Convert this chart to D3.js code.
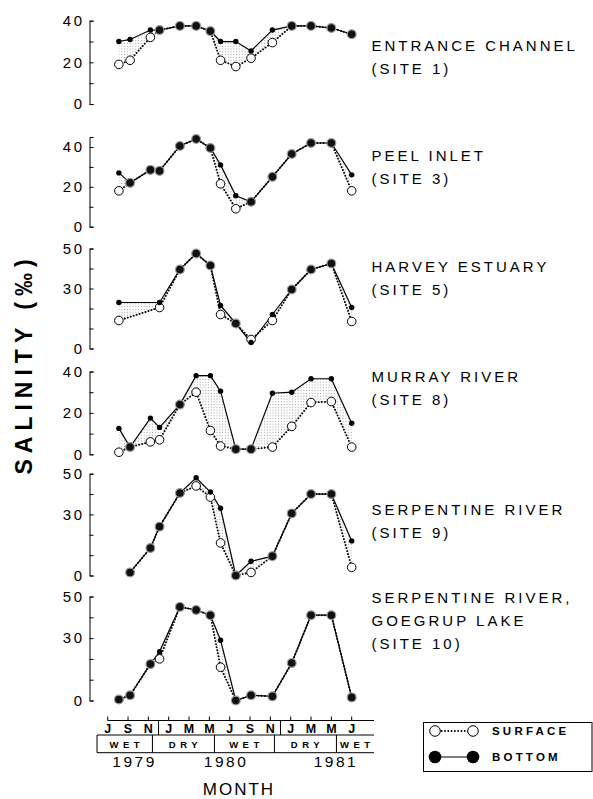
<!DOCTYPE html>
<html>
<head>
<meta charset="utf-8">
<script src="https://cdn.jsdelivr.net/npm/d3@7"></script>
<style>
  body { margin: 0; background: #fff; }
  svg { display: block; font-family: "Liberation Sans", Arial, sans-serif; }
</style>
</head>
<body>
<div id="chart"></div>
<script>
(function(){
    // Data: sampling dates as months after 1 July 1979
    const sampleMonths = [1.1, 2.2, 4.2, 5.1, 7.1, 8.7, 10.1, 11.1, 12.6, 14.1, 16.2, 18.1, 20.0, 22.0, 24.0];

    const entranceSurface = [19, 21, 32, 35.5, 37.5, 37.5, 35, 21, 18, 22, 29.5, 37.5, 37.5, 36.5, 33.5];
    const entranceBottom  = [30, 31, 35.5, 35.5, 37.5, 37.5, 35, 30, 30, 25.5, 35.5, 37.5, 37.5, 36.5, 33.5];

    const peelSurface = [18, 22, 28.5, 28, 40.5, 44, 39.5, 21.5, 9, 12.5, 25, 36.5, 42, 42, 18];
    const peelBottom  = [27, 22, 28.5, 28, 40.5, 44, 39.5, 31, 15.5, 12.5, 25, 36.5, 42, 42, 26];

    const harveySurface = [14, null, null, 20.5, 39.5, 47.5, 41.5, 17, 12.5, 4.5, 14, 29.5, 39.5, 42.5, 13.5];
    const harveyBottom  = [23, null, null, 23, 39.5, 47.5, 41.5, 21.5, 12.5, 3, 17, 29.5, 39.5, 42.5, 20.5];

    const murraySurface = [1, 3.5, 6, 7, 24, 30, 11.5, 4, 2.5, 2.5, 3.5, 13.5, 25, 25.5, 3.5];
    const murrayBottom  = [12.5, 3.5, 17.5, 13, 24, 38, 38, 30.5, 2.5, 2.5, 29.5, 30, 36.5, 36.5, 15];

    const serpentineSurface = [null, 1.5, 13.5, 24, 40.5, 44, 38.5, 16, 0, 1.5, 9.5, 30.5, 40, 40, 4];
    const serpentineBottom  = [null, 1.5, 13.5, 24, 40.5, 48, 41, 33, 0, 7, 9.5, 30.5, 40, 40, 17];

    const goegrupSurface = [0.5, 2.5, 17.5, 20, 45, 43.5, 41, 16, 0, 2.5, 2, 18, 41, 41, 1.5];
    const goegrupBottom  = [0.5, 2.5, 17.5, 23.5, 45, 43.5, 41, 29, 0, 2.5, 2, 18, 41, 41, 1.5];

    const siteLabels = [
        ["ENTRANCE CHANNEL", "(SITE 1)"],
        ["PEEL INLET", "(SITE 3)"],
        ["HARVEY ESTUARY", "(SITE 5)"],
        ["MURRAY RIVER", "(SITE 8)"],
        ["SERPENTINE RIVER", "(SITE 9)"],
        ["SERPENTINE RIVER,", "GOEGRUP LAKE", "(SITE 10)"]
    ];
    const surfaceSeries = [entranceSurface, peelSurface, harveySurface, murraySurface, serpentineSurface, goegrupSurface];
    const bottomSeries = [entranceBottom, peelBottom, harveyBottom, murrayBottom, serpentineBottom, goegrupBottom];
    const yMax = [40, 45, 50, 40, 50, 50];
    const yLabelTicks = [[0, 20, 40], [0, 20, 40], [0, 30, 50], [0, 20, 40], [0, 30, 50], [0, 30, 50]];

    const monthLabels = ["J", "S", "N", "J", "M", "M", "J", "S", "N", "J", "M", "M", "J"];
    const monthTickMonths = d3.range(0, 25, 2);
    const monthDividers = [5, 17];
    const seasons = ["WET", "DRY", "WET", "DRY", "WET"];
    const seasonBounds = [-1.05, 4.4, 10.5, 16.4, 22.5, 26.2];
    const years = ["1979", "1980", "1981"];
    const yearMonths = [2.5, 11.5, 22.3];

    // Layout (pixels)
    const W = 593, H = 799;
    const axisX = 89.5;
    const panels = [
        { top: 20.7, bottom: 104, label: 51 },
        { top: 137, bottom: 226.7, label: 161 },
        { top: 248.5, bottom: 348.5, label: 271.5 },
        { top: 371.5, bottom: 454.3, label: 381.5 },
        { top: 473.7, bottom: 575.5, label: 514.5 },
        { top: 596.5, bottom: 700.5, label: 603 }
    ];

    const svg = d3.select("#chart").append("svg")
        .attr("width", W)
        .attr("height", H);

    svg.append("rect").attr("width", W).attr("height", H).attr("fill", "#fff");

    const defs = svg.append("defs");
    const pat = defs.append("pattern")
        .attr("id", "stipple")
        .attr("patternUnits", "userSpaceOnUse")
        .attr("width", 2.8)
        .attr("height", 2.8);
    pat.append("circle").attr("cx", 1.4).attr("cy", 1.4).attr("r", 0.55).attr("fill", "#8a8a8a");

    const x = d3.scaleLinear().domain([0, 24]).range([107.7, 351.7]);

    panels.forEach((p, i) => {
        const y = d3.scaleLinear().domain([0, yMax[i]]).range([p.bottom, p.top]);
        const g = svg.append("g");

        // Axis
        const labelSet = new Set(yLabelTicks[i]);
        const axis = g.append("g")
            .attr("transform", `translate(${axisX},0)`)
            .call(d3.axisLeft(y)
                .tickValues(d3.range(0, yMax[i] + 1, 10))
                .tickSizeInner(-4)
                .tickSizeOuter(-4)
                .tickPadding(5)
                .tickFormat(d => labelSet.has(d) ? d : ""));
        axis.select(".domain").attr("stroke", "#000").attr("stroke-width", 1);
        axis.selectAll(".tick line").attr("stroke", "#000");
        axis.selectAll(".tick text")
            .attr("fill", "#000")
            .style("font-size", "15px")
            .style("letter-spacing", "2.5px");

        const pts = sampleMonths.map((m, k) => ({ m, s: surfaceSeries[i][k], b: bottomSeries[i][k] }))
            .filter(d => d.b !== null);

        // Stippled difference between surface and bottom
        g.append("path")
            .datum(pts)
            .attr("fill", "url(#stipple)")
            .attr("d", d3.area().x(d => x(d.m)).y0(d => y(d.s)).y1(d => y(d.b)));

        g.append("path")
            .datum(pts)
            .attr("fill", "none")
            .attr("stroke", "#000")
            .attr("stroke-width", 1.2)
            .attr("d", d3.line().x(d => x(d.m)).y(d => y(d.b)));

        g.append("path")
            .datum(pts)
            .attr("fill", "none")
            .attr("stroke", "#000")
            .attr("stroke-width", 1.9)
            .attr("stroke-linecap", "round")
            .attr("stroke-dasharray", "0.1 3")
            .attr("d", d3.line().x(d => x(d.m)).y(d => y(d.s)));

        const same = pts.filter(d => d.s === d.b);
        const diff = pts.filter(d => d.s !== d.b);

        g.selectAll(".surf")
            .data(diff)
            .enter().append("circle")
            .attr("cx", d => x(d.m))
            .attr("cy", d => y(d.s))
            .attr("r", 4.3)
            .attr("fill", "#fff")
            .attr("stroke", "#000")
            .attr("stroke-width", 1);

        g.selectAll(".bot")
            .data(diff)
            .enter().append("circle")
            .attr("cx", d => x(d.m))
            .attr("cy", d => y(d.b))
            .attr("r", 2.7)
            .attr("fill", "#000");

        g.selectAll(".both")
            .data(same)
            .enter().append("circle")
            .attr("cx", d => x(d.m))
            .attr("cy", d => y(d.b))
            .attr("r", 4.4)
            .attr("fill", "#111")
            .attr("stroke", "#999")
            .attr("stroke-width", 1.2);

        // Site label
        const lbl = g.append("text")
            .attr("x", 371.5)
            .attr("y", p.label)
            .style("font-size", "15px")
            .style("letter-spacing", "3px");
        siteLabels[i].forEach((t, k) => {
            lbl.append("tspan").attr("x", 371.5).attr("y", p.label + k * 23).text(t);
        });
    });

    // Y axis title
    svg.append("text")
        .attr("transform", "translate(32,364) rotate(-90)")
        .attr("text-anchor", "middle")
        .style("font-size", "23px")
        .style("font-weight", "bold")
        .style("letter-spacing", "6px")
        .text("SALINITY (‰)");

    // Month / season axis
    const ax = svg.append("g");
    const lineTop = 720.5, rowMid = 735, rowBot = 752.7, rightEnd = 374;

    ax.append("line").attr("x1", x(0)).attr("x2", rightEnd).attr("y1", lineTop).attr("y2", lineTop).attr("stroke", "#000");
    ax.selectAll(".mtick").data(monthTickMonths).enter().append("line")
        .attr("x1", d => x(d)).attr("x2", d => x(d))
        .attr("y1", lineTop - 4).attr("y2", lineTop)
        .attr("stroke", "#000");
    ax.selectAll(".mlabel").data(monthLabels).enter().append("text")
        .attr("x", (d, k) => x(monthTickMonths[k]))
        .attr("y", 733.3)
        .attr("text-anchor", "middle")
        .style("font-size", "12.5px")
        .style("font-weight", "bold")
        .text(d => d);
    ax.selectAll(".mdiv").data(monthDividers).enter().append("line")
        .attr("x1", d => x(d)).attr("x2", d => x(d))
        .attr("y1", lineTop).attr("y2", rowMid)
        .attr("stroke", "#000");

    ax.append("line").attr("x1", x(seasonBounds[0])).attr("x2", rightEnd).attr("y1", rowMid).attr("y2", rowMid).attr("stroke", "#000");
    ax.append("line").attr("x1", x(seasonBounds[0])).attr("x2", rightEnd).attr("y1", rowBot).attr("y2", rowBot).attr("stroke", "#000");
    ax.selectAll(".sdiv").data(seasonBounds.slice(0, -1)).enter().append("line")
        .attr("x1", d => x(d)).attr("x2", d => x(d))
        .attr("y1", rowMid).attr("y2", rowBot)
        .attr("stroke", "#000");
    ax.selectAll(".slabel").data(seasons).enter().append("text")
        .attr("x", (d, k) => (x(seasonBounds[k]) + x(seasonBounds[k + 1])) / 2 + 2)
        .attr("y", 747.5)
        .attr("text-anchor", "middle")
        .style("font-size", "9.5px")
        .style("font-weight", "bold")
        .style("letter-spacing", "4.5px")
        .text(d => d);

    ax.selectAll(".year").data(years).enter().append("text")
        .attr("x", (d, k) => x(yearMonths[k]) + 1.5)
        .attr("y", 767)
        .attr("text-anchor", "middle")
        .style("font-size", "15.5px")
        .style("letter-spacing", "2.5px")
        .text(d => d);

    ax.append("text")
        .attr("x", 239)
        .attr("y", 795)
        .attr("text-anchor", "middle")
        .style("font-size", "17px")
        .style("letter-spacing", "2px")
        .text("MONTH");

    // Legend
    const lg = svg.append("g");
    lg.append("rect")
        .attr("x", 423.5).attr("y", 722.5)
        .attr("width", 168.5).attr("height", 49)
        .attr("fill", "none").attr("stroke", "#000");

    lg.append("line").attr("x1", 435).attr("x2", 473).attr("y1", 731).attr("y2", 731)
        .attr("stroke", "#000").attr("stroke-width", 1.8)
        .attr("stroke-linecap", "round").attr("stroke-dasharray", "0.1 3.2");
    lg.selectAll(".lo").data([435, 473]).enter().append("circle")
        .attr("cx", d => d).attr("cy", 731).attr("r", 5.3)
        .attr("fill", "#fff").attr("stroke", "#000");

    lg.append("line").attr("x1", 435).attr("x2", 473).attr("y1", 757).attr("y2", 757)
        .attr("stroke", "#000").attr("stroke-width", 1.2);
    lg.selectAll(".lf").data([435, 473]).enter().append("circle")
        .attr("cx", d => d).attr("cy", 757).attr("r", 6.3)
        .attr("fill", "#000");

    lg.selectAll(".lt").data(["SURFACE", "BOTTOM"]).enter().append("text")
        .attr("x", 492)
        .attr("y", (d, k) => 735.2 + k * 26)
        .style("font-size", "11.5px")
        .style("font-weight", "bold")
        .style("letter-spacing", "3.2px")
        .text(d => d);
})();
</script>
</body>
</html>
